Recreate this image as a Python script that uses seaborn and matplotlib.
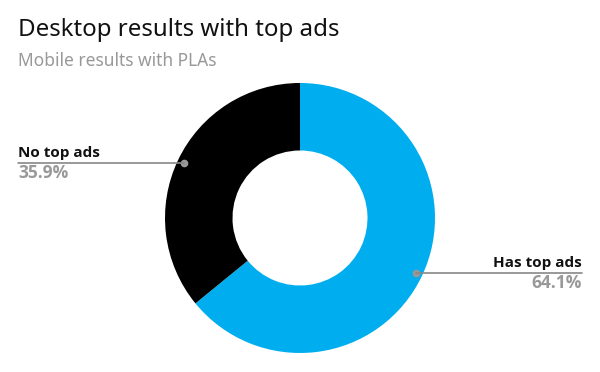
import matplotlib
matplotlib.use("Agg")
import matplotlib.pyplot as plt
import seaborn as sns
import numpy as np

sns.set_theme(style="white")
plt.rcParams['font.family'] = ['Noto Sans', 'DejaVu Sans']

categories = ["Has top ads", "No top ads"]
values = [64.1, 35.9]
colors = ["#00AEEF", "#000000"]

fig = plt.figure(figsize=(6, 3.72), dpi=100)
ax = fig.add_axes([0.275, 0.051, 0.45, 0.726])
wedges, _ = ax.pie(values, colors=colors, startangle=90, counterclock=False,
                   radius=1.0, wedgeprops=dict(width=0.5, linewidth=0))
ax.set_xlim(-1, 1)
ax.set_ylim(-1, 1)
ax.set_aspect("equal")
ax.axis("off")

fig.text(18/600, 1-30/372, "Desktop results with top ads", fontsize=17.3, color="#111111", va="center", ha="left")
fig.text(18/600, 1-61/372, "Mobile results with PLAs", fontsize=12.5, color="#999999", va="center", ha="left")

lab_font = ["Open Sans", "DejaVu Sans"]
total = sum(values)
start = 90.0
for i, (cat, v) in enumerate(zip(categories, values)):
    ang = start - 360 * (v / total) / 2
    start -= 360 * v / total
    rad = np.deg2rad(ang)
    r = 0.95
    px, py = r * np.cos(rad), r * np.sin(rad)
    disp = ax.transData.transform((px, py))
    fx, fy = fig.transFigure.inverted().transform(disp)
    ax.plot([px], [py], marker="o", color="#999999", markersize=4.5, zorder=5, clip_on=False)
    if px > 0:
        x_end, ha = 582/600, "right"
        xs = [fx, x_end]
    else:
        x_end, ha = 18/600, "left"
        xs = [x_end, fx]
    fig.add_artist(plt.Line2D(xs, [fy, fy], transform=fig.transFigure, color="#888888", lw=1.2))
    fig.text(x_end, fy + 10/372, cat, fontsize=11, fontweight="bold", family=lab_font,
             color="#111111", ha=ha, va="center")
    fig.text(x_end, fy - 10/372, f"{v:.1f}%", fontsize=12.5, fontweight="bold", family=lab_font,
             color="#999999", ha=ha, va="center")

fig.savefig("out.png", dpi=100, facecolor="white")
